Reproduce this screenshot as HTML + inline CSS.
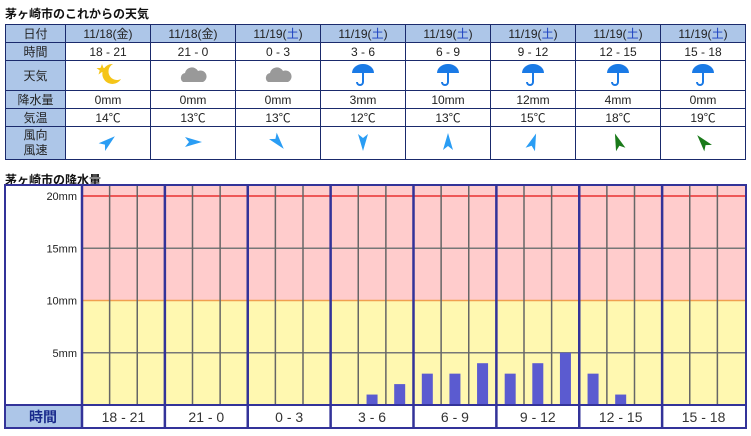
<!DOCTYPE html>
<html><head><meta charset="utf-8">
<style>
body{margin:0;width:751px;height:436px;background:#fff;position:relative;overflow:hidden;font-family:"Liberation Sans","Noto Sans CJK JP",sans-serif;}
.t{position:absolute;font-size:12px;font-weight:bold;color:#111;}
table{position:absolute;left:5px;top:24px;border-collapse:collapse;table-layout:fixed;width:741px;}
td{border:1px solid #1a2a6c;text-align:center;font-size:12px;color:#222;padding:0;}
td.h{background:#adc6e8;width:59px;}
tr.d td{background:#adc6e8;}
.sat{color:#1a40c0}
</style></head><body>
<div class="t" style="left:5px;top:5px;">茅ヶ崎市のこれからの天気</div>
<table>
<tr class="d" style="height:18px"><td class="h">日付</td><td>11/18(金)</td><td>11/18(金)</td><td>11/19(<span class="sat">土</span>)</td><td>11/19(<span class="sat">土</span>)</td><td>11/19(<span class="sat">土</span>)</td><td>11/19(<span class="sat">土</span>)</td><td>11/19(<span class="sat">土</span>)</td><td>11/19(<span class="sat">土</span>)</td></tr>
<tr style="height:18px"><td class="h">時間</td><td>18 - 21</td><td>21 - 0</td><td>0 - 3</td><td>3 - 6</td><td>6 - 9</td><td>9 - 12</td><td>12 - 15</td><td>15 - 18</td></tr>
<tr style="height:29px" id="wx"><td class="h">天気</td></tr>
<tr style="height:18px"><td class="h">降水量</td><td>0mm</td><td>0mm</td><td>0mm</td><td>3mm</td><td>10mm</td><td>12mm</td><td>4mm</td><td>0mm</td></tr>
<tr style="height:18px"><td class="h">気温</td><td>14℃</td><td>13℃</td><td>13℃</td><td>12℃</td><td>13℃</td><td>15℃</td><td>18℃</td><td>19℃</td></tr>
<tr style="height:33px" id="wind"><td class="h" style="line-height:15px">風向<br>風速</td></tr>
</table>
<div class="t" style="left:5px;top:171px;">茅ヶ崎市の降水量</div>
<svg id="chart" width="751" height="436" style="position:absolute;left:0;top:0"></svg>
<script>
const weather=['moon','cloud','cloud','rain','rain','rain','rain','rain'];
const windDir=[50,90,140,180,0,20,-20,-40];
const windColor=['#2a9df4','#2a9df4','#2a9df4','#2a9df4','#2a9df4','#2a9df4','#1a7a1a','#1a7a1a'];
const groups=['18 - 21','21 - 0','0 - 3','3 - 6','6 - 9','9 - 12','12 - 15','15 - 18'];
const hourly=[0,0,0, 0,0,0, 0,0,0, 0,1,2, 3,3,4, 3,4,5, 3,1,0, 0,0,0];
const yTicks=[5,10,15,20];
const NS='http://www.w3.org/2000/svg';
const wx=document.getElementById('wx');
weather.forEach((w,i)=>{
 const td=document.createElement('td');
 
 
 let s='';
 if(w==='moon')s='<svg width="30" height="26"><path d="M20 3a10 10 0 1 0 8 15a8 8 0 1 1 -8 -15z" fill="#f5c518"/><polygon points="9,3 10.5,7 14.5,7 11.3,9.5 12.5,13.5 9,11 5.5,13.5 6.7,9.5 3.5,7 7.5,7" fill="#f5c518"/></svg>';
 else if(w==='cloud')s='<svg width="30" height="26"><path d="M5 21a5 5 0 0 1 2-9a7 7 0 0 1 13-2a6 6 0 0 1 5 11z" fill="#999"/></svg>';
 else s='<svg width="30" height="26"><path d="M4 12a11 9 0 0 1 22 0z" fill="#1a7ae6"/><path d="M15 11v10a3 3 0 0 1 -6 0" stroke="#1a7ae6" stroke-width="2" fill="none"/></svg>';
 td.innerHTML=s;wx.appendChild(td);
});
const wr=document.getElementById('wind');
windDir.forEach((d,i)=>{
 const td=document.createElement('td');
 
 
 td.innerHTML='<svg width="24" height="24"><path transform="translate(12,12) rotate('+d+')" d="M0,-9 L5,8 L0,4 L-5,8 Z" fill="'+windColor[i]+'"/></svg>';
 wr.appendChild(td);
});
const svg=document.getElementById('chart');
function el(t,a,p){const e=document.createElementNS(NS,t);for(const k in a)e.setAttribute(k,a[k]);(p||svg).appendChild(e);return e;}
const X0=82,X1=745,Y0=405,PX=10.45,GW=(X1-X0)/8,SW=GW/3;
const y=v=>Y0-v*PX;
let r;
r=el('rect',{x:5,y:185,width:741,height:243,fill:'#fff'});
r=el('rect',{x:X0,y:186,width:X1-X0,height:y(10)-186,fill:'#ffcccc'});
r=el('rect',{x:X0,y:y(10),width:X1-X0,height:Y0-y(10),fill:'#fff8b0'});
yTicks.forEach(v=>{
 const c=v===20?'#e83030':v===10?'#f0a050':'#777';
 const l=el('line',{x1:X0,x2:X1,y1:y(v),y2:y(v),stroke:c,'stroke-width':1.5});
 
 
 const t=el('text',{x:77,y:y(v)+4,'text-anchor':'end','font-size':11,fill:'#222','font-family':'Liberation Sans, sans-serif'});
 t.textContent=v+'mm';
 
 
});
hourly.forEach((v,i)=>{
 if(v<=0)return;
 const cx=X0+SW*(i+0.5);
 const b=el('rect',{x:cx-5.5,y:y(v),width:11,height:v*PX,fill:'#5b5bd0'});
 
 
});
for(let i=1;i<24;i++){
 if(i%3===0)continue;
 const l=el('line',{x1:X0+SW*i,x2:X0+SW*i,y1:186,y2:Y0,stroke:'#666','stroke-width':1.5});
 
 
}
r=el('rect',{x:5,y:Y0,width:X0-5,height:428-Y0,fill:'#adc6e8'});
let tt=el('text',{x:43,y:Y0+17,'text-anchor':'middle','font-size':14,fill:'#1a2a8c','font-weight':'bold'});tt.textContent='時間';


groups.forEach((g,i)=>{
 const t=el('text',{x:X0+GW*(i+0.5),y:Y0+17,'text-anchor':'middle','font-size':14,fill:'#333','font-family':'Liberation Sans, sans-serif'});
 t.textContent=g;
 
 
});
el('line',{x1:5,x2:746,y1:Y0,y2:Y0,stroke:'#333399','stroke-width':2});
for(let i=0;i<8;i++){
 const l=el('line',{x1:X0+GW*i,x2:X0+GW*i,y1:185,y2:428,stroke:'#333399','stroke-width':2.5});
 
 
}
r=el('rect',{x:5,y:185,width:741,height:243,fill:'none',stroke:'#333399','stroke-width':2});
</script>
</body></html>
